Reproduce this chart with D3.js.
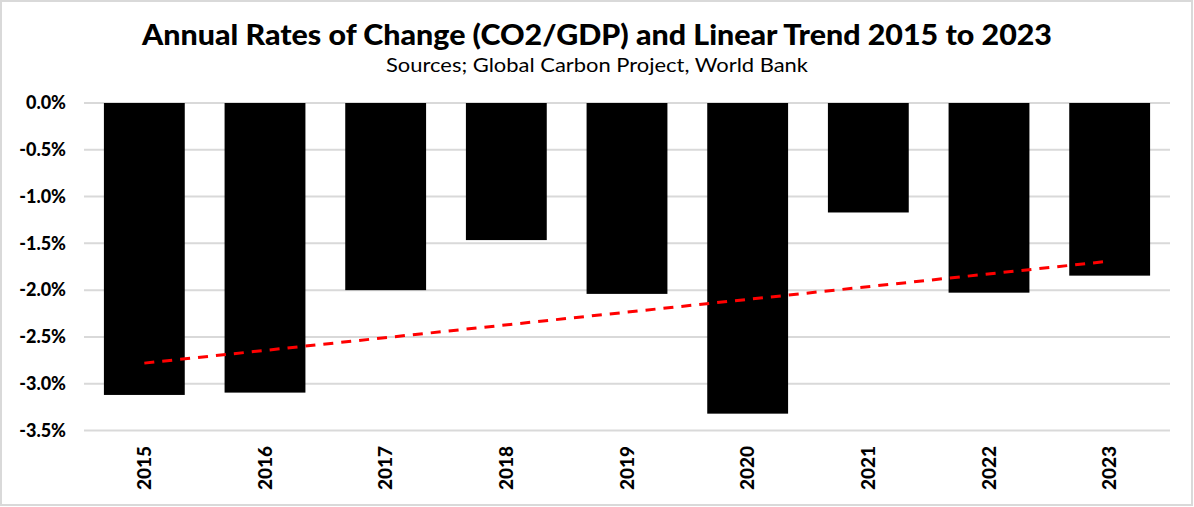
<!DOCTYPE html>
<html><head><meta charset="utf-8">
<script src="https://cdn.jsdelivr.net/npm/d3@7/dist/d3.min.js"></script>
<style>body{margin:0;background:#fff;} svg{display:block;font-family:Lato,"Open Sans",sans-serif;}</style>
</head><body>
<svg id="c" width="1194" height="507"></svg>
<script>
const years = ["2015","2016","2017","2018","2019","2020","2021","2022","2023"];
const rates = [-3.12,-3.095,-2.0,-1.465,-2.04,-3.32,-1.17,-2.027,-1.845];
const trendYears = ["2015","2023"];
const trendValues = [-2.78,-1.69];
const yTicks = [0,-0.5,-1,-1.5,-2,-2.5,-3,-3.5];

const svg = d3.select("#c");
svg.append("rect").attr("x",1).attr("y",1).attr("width",1191).attr("height",504)
  .attr("fill","#fff").attr("stroke","#d9d9d9").attr("stroke-width",2);

const x = d3.scaleBand().domain(years).range([84,1170]).paddingInner(0.33).paddingOuter(0.165);
const y = d3.scaleLinear().domain([-3.5,0]).range([430.5,103]);

// grid
svg.append("g").selectAll("line").data(yTicks).join("line")
  .attr("x1",84).attr("x2",1170).attr("y1",d=>y(d)).attr("y2",d=>y(d))
  .attr("stroke","#d9d9d9").attr("stroke-width",2);

// y axis labels
const ya = svg.append("g").attr("transform","translate(66,0)")
  .call(d3.axisLeft(y).tickValues(yTicks).tickSize(0).tickPadding(0).tickFormat(d=>d3.format(".1f")(d).replace("−","-")+"%"));
ya.select(".domain").remove();
ya.selectAll("text").attr("font-size",18).attr("font-weight","900").attr("fill","#000")
  .attr("font-family","Lato,sans-serif");

// bars
svg.append("g").selectAll("rect").data(years).join("rect")
  .attr("x",d=>x(d)).attr("width",x.bandwidth())
  .attr("y",(d,i)=>y(Math.max(0,rates[i]))).attr("height",(d,i)=>Math.abs(y(rates[i])-y(0)))
  .attr("fill","#000");

// trend
const line = d3.line().x((d,i)=>x(trendYears[i])+x.bandwidth()/2).y(d=>y(d));
svg.append("path").datum(trendValues).attr("d",line)
  .attr("fill","none").attr("stroke","#ff0000").attr("stroke-width",3)
  .attr("stroke-dasharray","10,8");

// x labels
const xa = svg.append("g").attr("transform","translate(0,446)")
  .call(d3.axisBottom(x).tickSize(0).tickPadding(0));
xa.select(".domain").remove();
xa.selectAll("text").attr("transform","rotate(-90)").attr("text-anchor","end")
  .attr("x",0).attr("y",0).attr("dy","0.35em")
  .attr("font-size",19).attr("font-weight","900").attr("fill","#000").attr("font-family","Lato,sans-serif");

// titles
svg.append("text").attr("x",597).attr("y",45).attr("text-anchor","middle")
  .attr("font-size",28).attr("font-weight","900").attr("fill","#000")
  .attr("textLength",910).attr("lengthAdjust","spacingAndGlyphs")
  .text("Annual Rates of Change (CO2/GDP)  and Linear Trend 2015 to 2023");
svg.append("text").attr("x",597).attr("y",72).attr("text-anchor","middle")
  .attr("font-size",20).attr("fill","#000")
  .attr("textLength",422).attr("lengthAdjust","spacingAndGlyphs")
  .text("Sources; Global Carbon Project, World Bank");
</script>
</body></html>
